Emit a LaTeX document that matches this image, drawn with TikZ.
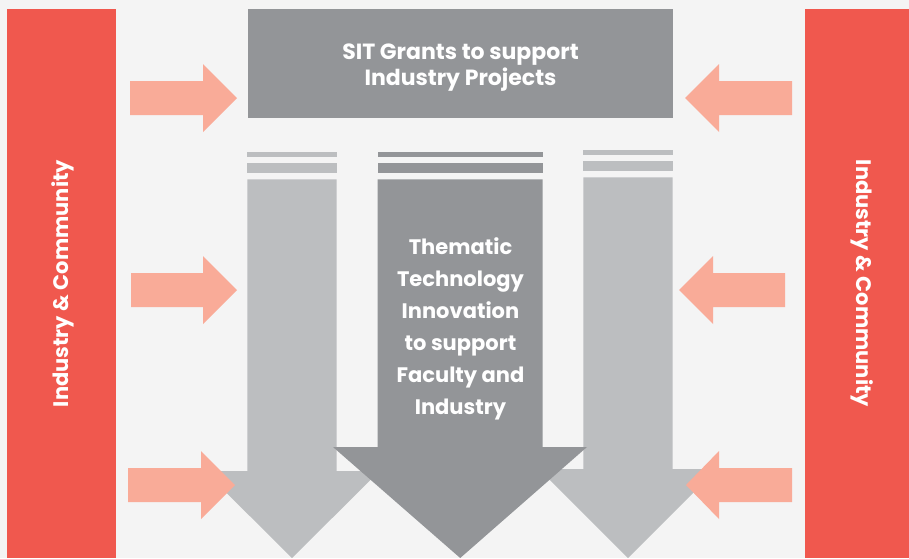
\documentclass[tikz,border=0pt]{standalone}
\usepackage{fontspec}
\setsansfont{Poppins}
\usepackage{xcolor}
\usepackage{tikz}
\usetikzlibrary{positioning}
\definecolor{sitred}{HTML}{F0584E}
\definecolor{salmon}{HTML}{F9AB98}
\definecolor{darkgrey}{HTML}{939598}
\definecolor{lightgrey}{HTML}{BCBEC0}
\definecolor{paper}{HTML}{F4F4F4}
\tikzstyle{sidebar}=[rectangle, fill=sitred, inner sep=0pt, minimum width=109pt, minimum height=549pt]
\tikzstyle{whitetext}=[text=white, inner sep=0pt, align=center, font=\sffamily\bfseries\fontsize{21}{25}\selectfont]

\begin{document}
\begin{tikzpicture}[x=1pt, y=-1pt]

	\fill[paper] (0,0) rectangle (909,558);
	\useasboundingbox (0,0) rectangle (909,558);

	\node[sidebar] (leftbar) at (61.5,283.5) {};
	\node[sidebar, minimum width=104pt] (rightbar) at (857,283.5) {};
	\node[whitetext, rotate=90] at ([xshift=1pt]leftbar.center) {Industry \& Community};
	\node[whitetext, rotate=-90] at ([xshift=5.5pt]rightbar.center) {Industry \& Community};

	% grey arrows, striped at the top
	\foreach \xl/\xr/\ys/\yh/\hl/\hr/\tx/\col in {247.3/336.7/151.7/471/204.5/379.5/292/lightgrey, 583.3/672.7/149.7/469/539/717/628/lightgrey, 377.7/542.7/151.7/447/333/587/460.2/darkgrey}
	{
		\fill[\col] (\xl,\ys) rectangle (\xr,\ys+5);
		\fill[\col] (\xl,\ys+11) rectangle (\xr,\ys+21.6);
		\fill[\col] (\xl,\ys+27.6) -- (\xr,\ys+27.6) -- (\xr,\yh) -- (\hr,\yh) -- (\tx,558)
			-- (\hl,\yh) -- (\xl,\yh) -- cycle;
	}

	\node[fill=darkgrey, minimum width=425pt, minimum height=109pt, inner sep=0pt] (grants) at (460.5,63.5) {};
	\node[whitetext, font=\sffamily\bfseries\fontsize{22}{26}\selectfont]
		at ([yshift=-4.5pt]grants.center) {SIT Grants to support\\Industry Projects};

	\node[whitetext, font=\sffamily\bfseries\fontsize{21}{32}\selectfont, below=119pt of grants] (thematic)
		{Thematic\\Technology\\Innovation\\to support\\Faculty and\\Industry};

	% salmon arrows from both sides
	\foreach \xa/\xb/\xt/\yc in {130/203/237/98, 131/203/237/290, 128/201/235/485, 792/719/685/98, 785/713/679/290, 792/719/686/485}
		\fill[salmon] (\xa,\yc-17) -- (\xb,\yc-17) -- (\xb,\yc-34) -- (\xt,\yc)
			-- (\xb,\yc+34) -- (\xb,\yc+17) -- (\xa,\yc+17) -- cycle;

\end{tikzpicture}
\end{document}
